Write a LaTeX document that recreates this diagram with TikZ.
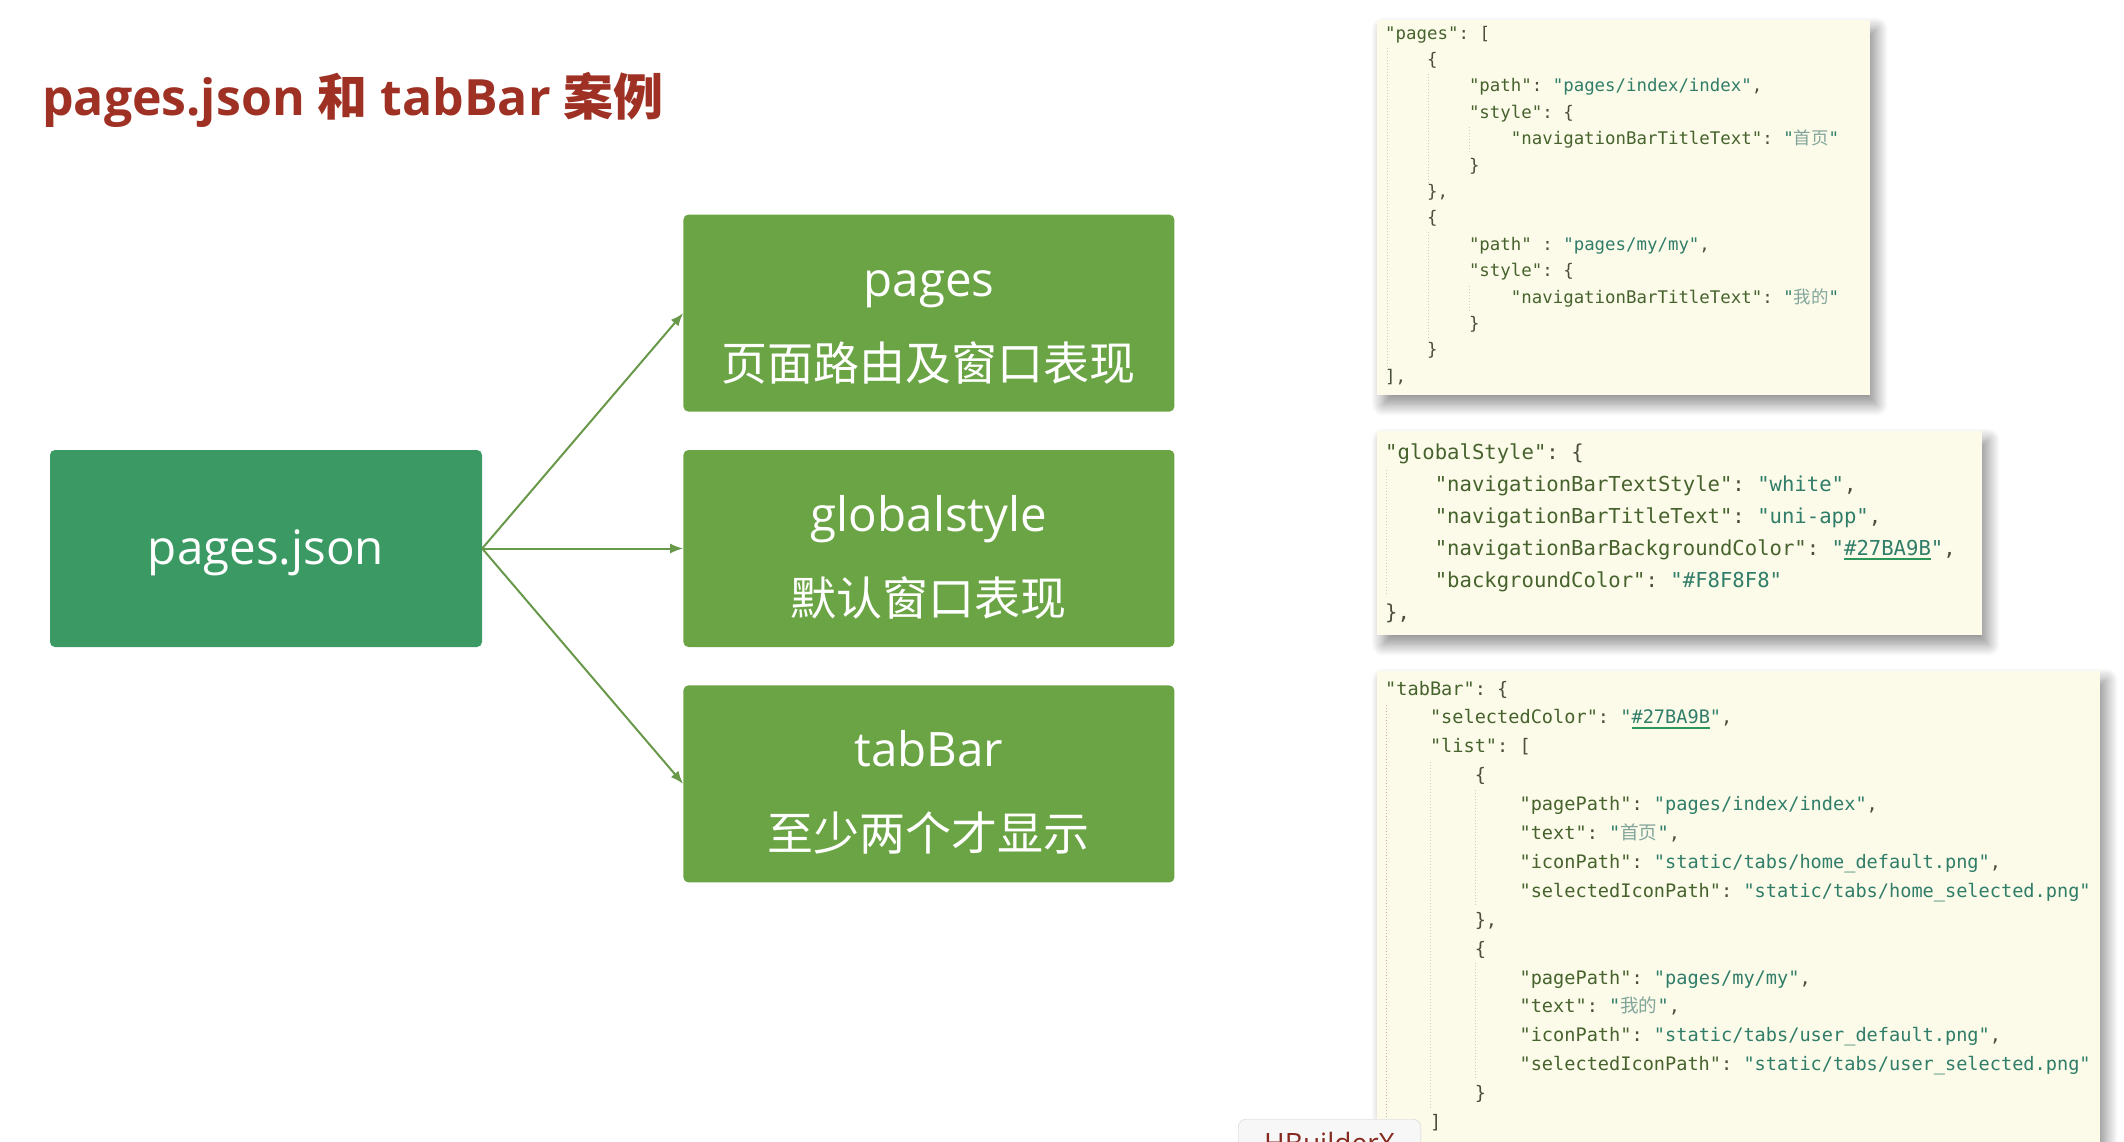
\documentclass[tikz,border=0pt]{standalone}
\usepackage{fontspec}
\setmainfont{Open Sans}
\setmonofont{DejaVu Sans Mono}
\newfontfamily\cjk{Noto Sans CJK SC}
\usepackage{tikz}
\usetikzlibrary{positioning,arrows.meta,shadows.blur}

\definecolor{titlered}{RGB}{158,48,36}
\definecolor{jsongreen}{RGB}{59,154,99}
\definecolor{boxgreen}{RGB}{107,164,68}
\definecolor{arrowgreen}{RGB}{104,152,74}
\definecolor{paper}{RGB}{252,251,233}
\definecolor{keyc}{RGB}{70,98,45}
\definecolor{valc}{RGB}{48,125,105}
\definecolor{cjkc}{RGB}{130,165,155}
\definecolor{punc}{RGB}{75,78,62}
\definecolor{ulc}{RGB}{45,150,90}
\definecolor{guidec}{RGB}{205,205,190}

% json snippets
\newcommand\jk[1]{\textcolor{keyc}{"#1"}}
\newcommand\jv[1]{\textcolor{valc}{"#1"}}
\newcommand\jc[1]{\textcolor{valc}{"}\textcolor{cjkc}{\cjk #1}\textcolor{valc}{"}}
\newsavebox\hexbox
\newcommand\jhex[1]{\sbox\hexbox{\color{valc}#1}\textcolor{valc}{"}\rlap{\color{ulc}\rule[-5pt]{\wd\hexbox}{2pt}}\usebox\hexbox\textcolor{valc}{"}}
\newcommand\tb{\hspace*{2.408em}}
\newcommand\codeA{\fontsize{17.4}{26.4}\selectfont\ttfamily}
\newcommand\codeB{\fontsize{20.6}{32}\selectfont\ttfamily}
\newcommand\codeC{\fontsize{18.6}{28.9}\selectfont\ttfamily}
\newcommand\boxfont{\fontsize{47.5}{84}\selectfont}
\newcommand\boxcjk{\cjk\fontsize{46}{84}\selectfont}
\newcommand\titlecjk{\cjk\fontsize{50}{60}\selectfont}

\begin{document}
\begin{tikzpicture}[x=1pt, y=-1pt, node distance=38pt and 201pt]
\tikzstyle{gbox}=[rounded corners=5pt, minimum width=491pt, minimum height=197pt, inner sep=5pt, align=center, text=white, font=\boxfont, fill=boxgreen]
\tikzstyle{panel}=[fill=paper, inner sep=0pt, anchor=north west, blur shadow={shadow xshift=6pt, shadow yshift=-9pt, shadow blur radius=12pt, shadow blur steps=12, shadow opacity=45}]
\tikzstyle{code}=[inner sep=0pt, anchor=base west, align=left, text=punc]
\tikzstyle{guide}=[guidec, dotted, line width=1pt]
\useasboundingbox (0,0) rectangle (2124,1142);

\node[anchor=base west, inner sep=0pt, text=titlered, font=\bfseries\fontsize{50}{60}\selectfont] (title) at (42,116) {pages.json {\titlecjk 和} tabBar {\titlecjk 案例}};

\node[gbox, fill=jsongreen, minimum width=432pt] (json) at (266,548.5) {\rule{0pt}{44pt}pages.json};
\node[gbox, right=of json] (glob) {\rule{0pt}{56pt}globalstyle\\{\boxcjk 默认窗口表现\rule[-6pt]{0pt}{6pt}}};
\node[gbox, above=of glob] (pages) {\rule{0pt}{56pt}pages\\{\boxcjk 页面路由及窗口表现\rule[-6pt]{0pt}{6pt}}};
\node[gbox, below=of glob] (tabbar) {\rule{0pt}{56pt}tabBar\\{\boxcjk 至少两个才显示\rule[-6pt]{0pt}{6pt}}};

\draw[->,>={Latex[length=13pt,width=10pt]}, arrowgreen, line width=2pt] (json.east)--(pages.west);
\draw[->,>={Latex[length=13pt,width=10pt]}, arrowgreen, line width=2pt] (json.east)--(glob.west);
\draw[->,>={Latex[length=13pt,width=10pt]}, arrowgreen, line width=2pt] (json.east)--(tabbar.west);

% code panels
\node[panel, minimum width=493pt, minimum height=375pt] (pagespanel) at (1377,20) {};
\node[panel, minimum width=605pt, minimum height=204pt] (globpanel) at (1377,431) {};
\node[panel, minimum width=723pt, minimum height=500pt] (tabpanel) at (1377,671) {};

\draw[guide] (1387,48)--(1387,372);
\draw[guide] (1428,74)--(1428,183) (1428,232)--(1428,340);
\draw[guide] (1469,127)--(1469,153) (1469,286)--(1469,312);
\draw[guide] (1386,470)--(1386,596);
\draw[guide, draw=titlered!40] (1386,705)--(1386,1142);
\draw[guide] (1430,762)--(1430,1110);
\draw[guide] (1475,790)--(1475,905) (1475,963)--(1475,1079);

% base of a multi-line node = its last line
\node[code, font=\codeA] (pagescode) at (1385,382.2) {%
\jk{pages}: [\\
\tb\{\\
\tb\tb\jk{path}: \jv{pages/index/index},\\
\tb\tb\jk{style}: \{\\
\tb\tb\tb\jk{navigationBarTitleText}: \jc{首页}\\
\tb\tb\}\\
\tb\},\\
\tb\{\\
\tb\tb\jk{path} : \jv{pages/my/my},\\
\tb\tb\jk{style}: \{\\
\tb\tb\tb\jk{navigationBarTitleText}: \jc{我的}\\
\tb\tb\}\\
\tb\}\\
],};

\node[code, font=\codeB] (globcode) at (1385,619) {%
\jk{globalStyle}: \{\\
\tb\jk{navigationBarTextStyle}: \jv{white},\\
\tb\jk{navigationBarTitleText}: \jv{uni-app},\\
\tb\jk{navigationBarBackgroundColor}: \jhex{\#27BA9B},\\
\tb\jk{backgroundColor}: \jv{\#F8F8F8}\\
\},};

\node[code, font=\codeC] (tabcode) at (1385,1128.5) {%
\jk{tabBar}: \{\\
\tb\jk{selectedColor}: \jhex{\#27BA9B},\\
\tb\jk{list}: [\\
\tb\tb\{\\
\tb\tb\tb\jk{pagePath}: \jv{pages/index/index},\\
\tb\tb\tb\jk{text}: \jc{首页},\\
\tb\tb\tb\jk{iconPath}: \jv{static/tabs/home\_default.png},\\
\tb\tb\tb\jk{selectedIconPath}: \jv{static/tabs/home\_selected.png}\\
\tb\tb\},\\
\tb\tb\{\\
\tb\tb\tb\jk{pagePath}: \jv{pages/my/my},\\
\tb\tb\tb\jk{text}: \jc{我的},\\
\tb\tb\tb\jk{iconPath}: \jv{static/tabs/user\_default.png},\\
\tb\tb\tb\jk{selectedIconPath}: \jv{static/tabs/user\_selected.png}\\
\tb\tb\}\\
\tb]};

\node[anchor=north west, draw=black!18, fill=black!3, rounded corners=8pt, inner xsep=26pt, inner ysep=13pt, text=titlered!85!black, font=\fontsize{28}{30}\selectfont] (hbtab) at (1238,1119) {HBuilderX};
\end{tikzpicture}
\end{document}
